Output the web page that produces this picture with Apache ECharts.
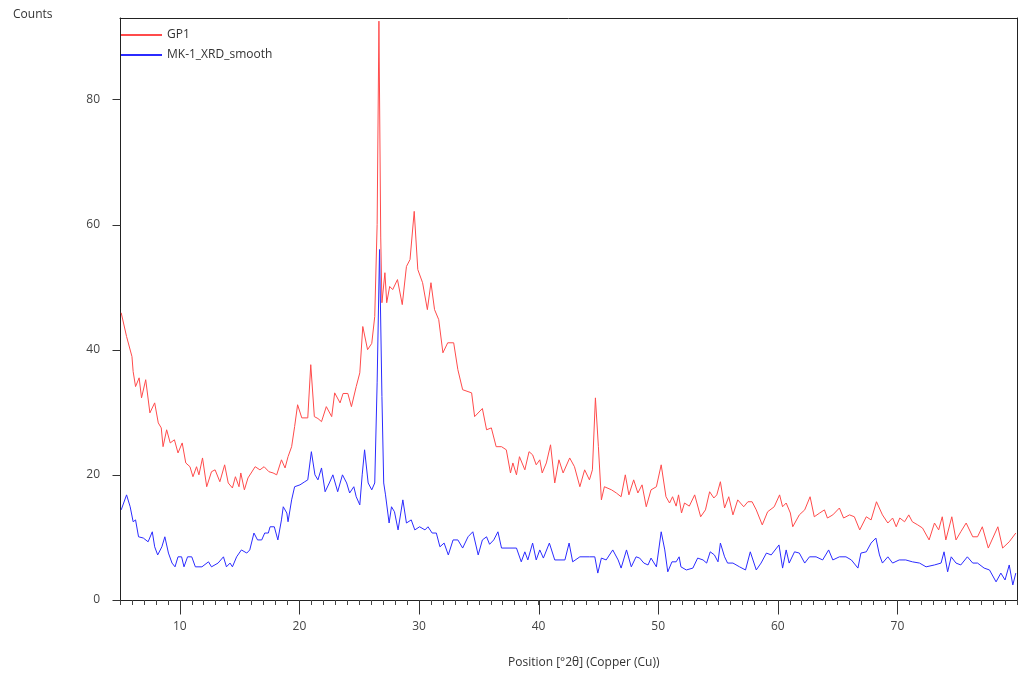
<!DOCTYPE html>
<html>
<head>
<meta charset="utf-8">
<script src="https://cdn.jsdelivr.net/npm/echarts@6/dist/echarts.min.js"></script>
<style>
  html, body { margin: 0; padding: 0; background: #fff; }
  #xrdChart { width: 1018px; height: 679px; }
</style>
</head>
<body>
<div id="xrdChart"></div>
<script>
// 2θ positions / counts
const gp1Angle = [5.1, 5.55, 6.0, 6.1, 6.3, 6.6, 6.8, 7.15, 7.5, 7.9, 8.2, 8.45, 8.6, 8.9, 9.2, 9.55, 9.85, 10.2, 10.5, 10.85,
  11.1, 11.4, 11.6, 11.9, 12.25, 12.65, 12.95, 13.35, 13.75, 14.05, 14.4, 14.65, 14.95, 15.1, 15.4, 15.7, 16.3, 16.7, 17.05, 17.45,
  17.8, 18.1, 18.5, 18.8, 19.05, 19.35, 19.6, 19.85, 20.2, 20.7, 20.95, 21.25, 21.55, 21.85, 22.25, 22.7, 22.95, 23.4, 23.65, 24.05,
  24.35, 24.75, 25.05, 25.3, 25.7, 26.05, 26.3, 26.5, 26.65, 26.8, 26.9, 27.15, 27.3, 27.55, 27.8, 28.2, 28.6, 28.95, 29.25, 29.6,
  29.9, 30.3, 30.7, 31.0, 31.3, 31.65, 32.0, 32.4, 32.9, 33.25, 33.65, 34.4, 34.65, 35.3, 35.65, 36.05, 36.45, 36.9, 37.3, 37.65,
  37.85, 38.15, 38.4, 38.85, 39.2, 39.5, 39.8, 40.1, 40.3, 40.65, 41.0, 41.35, 41.7, 42.05, 42.6, 43.0, 43.45, 43.85, 44.25, 44.5,
  44.75, 45.0, 45.25, 45.5, 46.1, 46.5, 46.9, 47.25, 47.55, 47.95, 48.3, 48.65, 49.0, 49.4, 49.85, 50.25, 50.65, 50.95, 51.2, 51.5,
  51.7, 51.95, 52.2, 52.6, 53.05, 53.55, 53.95, 54.3, 54.65, 54.9, 55.2, 55.55, 55.9, 56.25, 56.65, 57.15, 57.5, 57.85, 58.2, 58.7,
  59.15, 59.7, 60.15, 60.4, 60.7, 61.05, 61.25, 61.8, 62.25, 62.7, 63.05, 63.5, 63.9, 64.15, 64.6, 65.15, 65.5, 66.0, 66.4, 66.85,
  67.4, 67.8, 68.25, 68.75, 69.2, 69.6, 69.9, 70.2, 70.6, 70.95, 71.25, 71.7, 72.1, 72.65, 73.1, 73.45, 73.75, 74.05, 74.55, 74.9,
  75.3, 75.75, 76.3, 76.7, 77.1, 77.6, 78.4, 78.8, 79.35, 79.9]
const gp1Counts = [45.9, 42.1, 38.9, 36.5, 34.1, 35.5, 32.3, 35.2, 29.9, 31.5, 28.3, 27.5, 24.5, 27.2, 25.1, 25.6, 23.5, 25.1, 21.9, 21.3,
  19.7, 21.3, 20.0, 22.7, 18.1, 20.5, 20.8, 18.9, 21.6, 18.7, 17.9, 19.7, 18.1, 20.3, 17.6, 19.5, 21.3, 20.8, 21.3, 20.5,
  20.3, 20.0, 22.4, 21.1, 22.9, 24.5, 27.7, 31.2, 29.1, 29.1, 37.6, 29.3, 29.0, 28.5, 30.9, 29.3, 33.1, 31.5, 33.0, 33.0,
  30.9, 34.1, 36.3, 43.7, 40.0, 41.0, 45.3, 60.0, 92.5, 58.0, 47.5, 52.3, 47.5, 50.1, 49.6, 51.2, 47.2, 53.3, 54.4, 62.1,
  52.8, 50.7, 46.4, 50.7, 46.4, 44.8, 39.5, 41.1, 41.1, 36.8, 33.6, 33.1, 29.3, 30.6, 27.2, 27.5, 24.5, 24.5, 24.0, 20.3,
  21.9, 20.0, 22.9, 20.8, 23.7, 23.2, 21.6, 22.4, 20.3, 21.9, 24.8, 18.7, 22.4, 20.3, 22.7, 21.3, 18.1, 20.8, 19.2, 20.8,
  32.3, 24.5, 16.0, 18.1, 17.6, 17.1, 16.5, 20.0, 16.8, 19.2, 17.1, 18.4, 14.9, 17.6, 18.1, 21.6, 16.5, 15.5, 16.5, 15.0,
  16.8, 13.9, 15.5, 15.0, 16.8, 13.3, 14.4, 17.3, 16.3, 16.8, 18.9, 14.7, 16.5, 13.6, 16.0, 14.9, 15.7, 15.7, 14.4, 12.0,
  14.1, 14.9, 16.8, 14.9, 15.5, 13.9, 11.7, 13.6, 14.4, 16.5, 13.3, 13.9, 14.4, 13.1, 13.6, 14.7, 13.1, 13.6, 13.3, 11.2,
  13.3, 12.8, 15.7, 13.6, 12.3, 13.1, 11.7, 13.1, 12.5, 13.6, 12.5, 12.0, 11.5, 9.6, 12.3, 11.2, 13.3, 9.6, 13.3, 9.6,
  10.9, 12.3, 10.1, 10.1, 11.7, 8.3, 11.7, 8.3, 9.3, 10.7]

const mkAngle = [5.1, 5.55, 5.85, 6.1, 6.3, 6.55, 6.95, 7.35, 7.7, 7.9, 8.15, 8.5, 8.75, 9.05, 9.35, 9.6, 9.85, 10.15, 10.35, 10.65,
  11.0, 11.3, 11.85, 12.4, 12.65, 13.2, 13.65, 13.9, 14.2, 14.4, 14.75, 15.15, 15.6, 15.85, 16.2, 16.5, 16.85, 17.1, 17.4, 17.55,
  17.9, 18.2, 18.5, 18.65, 18.95, 19.05, 19.35, 19.6, 20.05, 20.45, 20.7, 21.0, 21.3, 21.55, 21.85, 22.15, 22.5, 22.8, 23.2, 23.6,
  23.95, 24.2, 24.55, 24.75, 25.05, 25.25, 25.45, 25.75, 26.05, 26.3, 26.5, 26.7, 26.9, 27.05, 27.2, 27.5, 27.7, 27.95, 28.25, 28.65,
  28.95, 29.35, 29.65, 30.05, 30.5, 30.75, 31.1, 31.45, 31.75, 32.1, 32.45, 32.85, 33.25, 33.65, 34.1, 34.5, 34.95, 35.3, 35.65, 35.9,
  36.25, 36.6, 36.9, 38.15, 38.55, 38.85, 39.1, 39.5, 39.8, 40.1, 40.4, 40.9, 41.35, 42.2, 42.55, 42.85, 43.45, 44.25, 44.7, 44.95,
  45.25, 45.65, 46.2, 46.65, 46.9, 47.35, 47.75, 48.15, 48.45, 48.8, 49.15, 49.4, 49.85, 50.25, 50.55, 50.8, 51.15, 51.5, 51.75, 51.9,
  52.35, 52.9, 53.3, 53.75, 54.05, 54.35, 54.7, 55.0, 55.2, 55.55, 55.8, 56.25, 56.8, 57.3, 57.7, 58.2, 58.6, 59.05, 59.45, 60.1,
  60.4, 60.7, 60.95, 61.4, 61.8, 62.25, 62.65, 63.2, 63.75, 64.25, 64.6, 65.15, 65.7, 66.15, 66.7, 66.95, 67.4, 67.8, 68.2, 68.5,
  68.75, 69.2, 69.6, 70.15, 70.7, 71.25, 71.85, 72.4, 73.1, 73.65, 73.9, 74.2, 74.5, 74.9, 75.3, 75.85, 76.3, 76.7, 77.25, 77.7,
  78.25, 78.65, 79.0, 79.35, 79.65, 79.9]
const mkCounts = [14.4, 16.8, 14.9, 12.5, 12.8, 10.1, 9.9, 9.3, 10.9, 8.5, 7.2, 8.5, 10.1, 7.5, 5.9, 5.3, 6.9, 6.9, 5.3, 6.9,
  6.9, 5.3, 5.3, 6.1, 5.3, 5.9, 6.9, 5.3, 5.9, 5.3, 6.9, 8.0, 7.5, 8.0, 10.7, 9.6, 9.6, 10.7, 10.7, 11.7,
  11.7, 9.6, 12.8, 14.9, 13.9, 12.5, 16.0, 18.1, 18.4, 18.9, 19.2, 23.7, 20.0, 19.2, 21.1, 17.3, 18.7, 20.0, 17.3, 20.0,
  18.7, 17.1, 18.1, 16.5, 15.2, 20.0, 24.0, 18.7, 17.6, 18.7, 34.7, 56.0, 32.5, 18.7, 16.8, 12.3, 14.9, 14.1, 11.2, 16.0,
  12.3, 12.8, 11.2, 11.7, 11.2, 11.7, 10.7, 10.7, 8.5, 9.1, 7.2, 9.6, 9.6, 8.3, 10.1, 10.9, 7.2, 9.6, 10.1, 8.9,
  9.6, 10.9, 8.3, 8.3, 6.1, 7.7, 6.4, 9.1, 6.4, 8.0, 6.7, 9.1, 6.4, 6.4, 9.1, 6.1, 6.9, 6.9, 6.9, 4.3,
  6.7, 6.4, 8.0, 6.4, 5.1, 8.0, 5.3, 6.9, 6.7, 5.9, 5.6, 6.7, 5.3, 10.9, 8.0, 4.5, 6.1, 6.1, 6.9, 5.3,
  4.8, 5.1, 6.7, 6.4, 5.9, 7.7, 7.2, 6.1, 9.1, 6.9, 5.9, 5.9, 5.3, 4.8, 7.7, 4.8, 5.9, 7.5, 7.2, 8.8,
  5.1, 8.0, 5.9, 7.7, 7.5, 5.9, 6.9, 6.9, 6.4, 8.0, 6.4, 6.9, 6.9, 6.4, 5.1, 7.5, 7.7, 9.1, 9.9, 7.2,
  5.9, 6.9, 5.9, 6.4, 6.4, 6.1, 5.9, 5.3, 5.6, 5.9, 7.7, 4.5, 6.9, 5.9, 5.6, 6.9, 5.9, 5.9, 5.1, 4.8,
  2.9, 4.3, 3.2, 5.6, 2.4, 4.3]

const xTicks = [10, 20, 30, 40, 50, 60, 70]
const yTicks = [0, 20, 40, 60, 80]

const fontFamily = 'Open Sans'
const toPairs = (xs, ys) => xs.map((x, i) => [x, ys[i]])

const frameAxis = { axisLine: { show: true, lineStyle: { color: '#222', width: 1 } }, axisTick: { show: false }, axisLabel: { show: false }, splitLine: { show: false } }

// major tick marks drawn through the axes' own scale (custom series, no clipping)
function tickSeries(values, isX) {
  return {
    type: 'custom',
    silent: true,
    clip: false,
    z: 10,
    encode: isX ? { x: 0 } : { y: 0 },
    data: values.map(v => [v]),
    renderItem: (params, api) => {
      const p = isX ? api.coord([api.value(0), 0]) : api.coord([5, api.value(0)])
      const x = Math.round(p[0]) + 0.5
      const y = Math.round(p[1]) + 0.5
      return {
        type: 'line',
        shape: isX ? { x1: x, y1: y, x2: x, y2: y + 14 } : { x1: x - 8, y1: y, x2: x, y2: y },
        style: { stroke: '#333', lineWidth: 1 }
      }
    }
  }
}

const myChart = echarts.init(document.getElementById('xrdChart'))
const option = {
  animation: false,
  textStyle: { fontFamily: fontFamily },
  title: [
    {
      text: 'Counts',
      left: 8,
      top: 4,
      textStyle: { fontSize: 12, fontWeight: 'normal', color: '#333', fontFamily: fontFamily }
    },
    {
      text: 'Position [°2θ] (Copper (Cu))',
      left: 503,
      top: 652,
      textStyle: { fontSize: 12, fontWeight: 'normal', color: '#333', fontFamily: fontFamily }
    }
  ],
  legend: {
    orient: 'vertical',
    left: 121,
    top: 29,
    padding: 0,
    icon: 'rect',
    itemWidth: 41,
    itemHeight: 2,
    itemGap: 8,
    textStyle: { fontSize: 12, color: '#333', fontFamily: fontFamily },
    data: ['GP1', 'MK-1_XRD_smooth']
  },
  grid: {
    left: 120,
    right: 1,
    top: 18,
    bottom: 79
  },
  xAxis: [
    {
      type: 'value',
      position: 'bottom',
      min: 5,
      max: 80,
      axisLine: { lineStyle: { color: '#222', width: 1 } },
      axisTick: { show: false },
      axisLabel: { customValues: xTicks, margin: 21, fontSize: 12, color: '#444' },
      splitLine: { show: false }
    },
    {
      // minor ticks every 1°
      type: 'value',
      position: 'bottom',
      min: 5,
      max: 80,
      interval: 1,
      axisLine: { show: false },
      axisTick: { show: true, length: 5, lineStyle: { color: '#444' } },
      axisLabel: { show: false },
      splitLine: { show: false }
    },
    Object.assign({ type: 'value', position: 'top', min: 5, max: 80 }, frameAxis)
  ],
  yAxis: [
    {
      type: 'value',
      position: 'left',
      min: 0,
      max: 93,
      interval: 20,
      axisLine: { show: true, lineStyle: { color: '#222', width: 1 } },
      axisTick: { show: false },
      axisLabel: { customValues: yTicks, margin: 20, fontSize: 12, color: '#444' },
      splitLine: { show: false }
    },
    Object.assign({ type: 'value', position: 'right', min: 0, max: 93 }, frameAxis)
  ],
  series: [
    {
      name: 'GP1',
      type: 'line',
      showSymbol: false,
      color: '#ff4b4b',
      lineStyle: { width: 1, color: '#ff4b4b' },
      data: toPairs(gp1Angle, gp1Counts)
    },
    {
      name: 'MK-1_XRD_smooth',
      type: 'line',
      showSymbol: false,
      color: '#2b2bff',
      lineStyle: { width: 1, color: '#2b2bff' },
      data: toPairs(mkAngle, mkCounts)
    },
    tickSeries(xTicks, true),
    tickSeries(yTicks, false)
  ]
}
myChart.setOption(option)
</script>
</body>
</html>
